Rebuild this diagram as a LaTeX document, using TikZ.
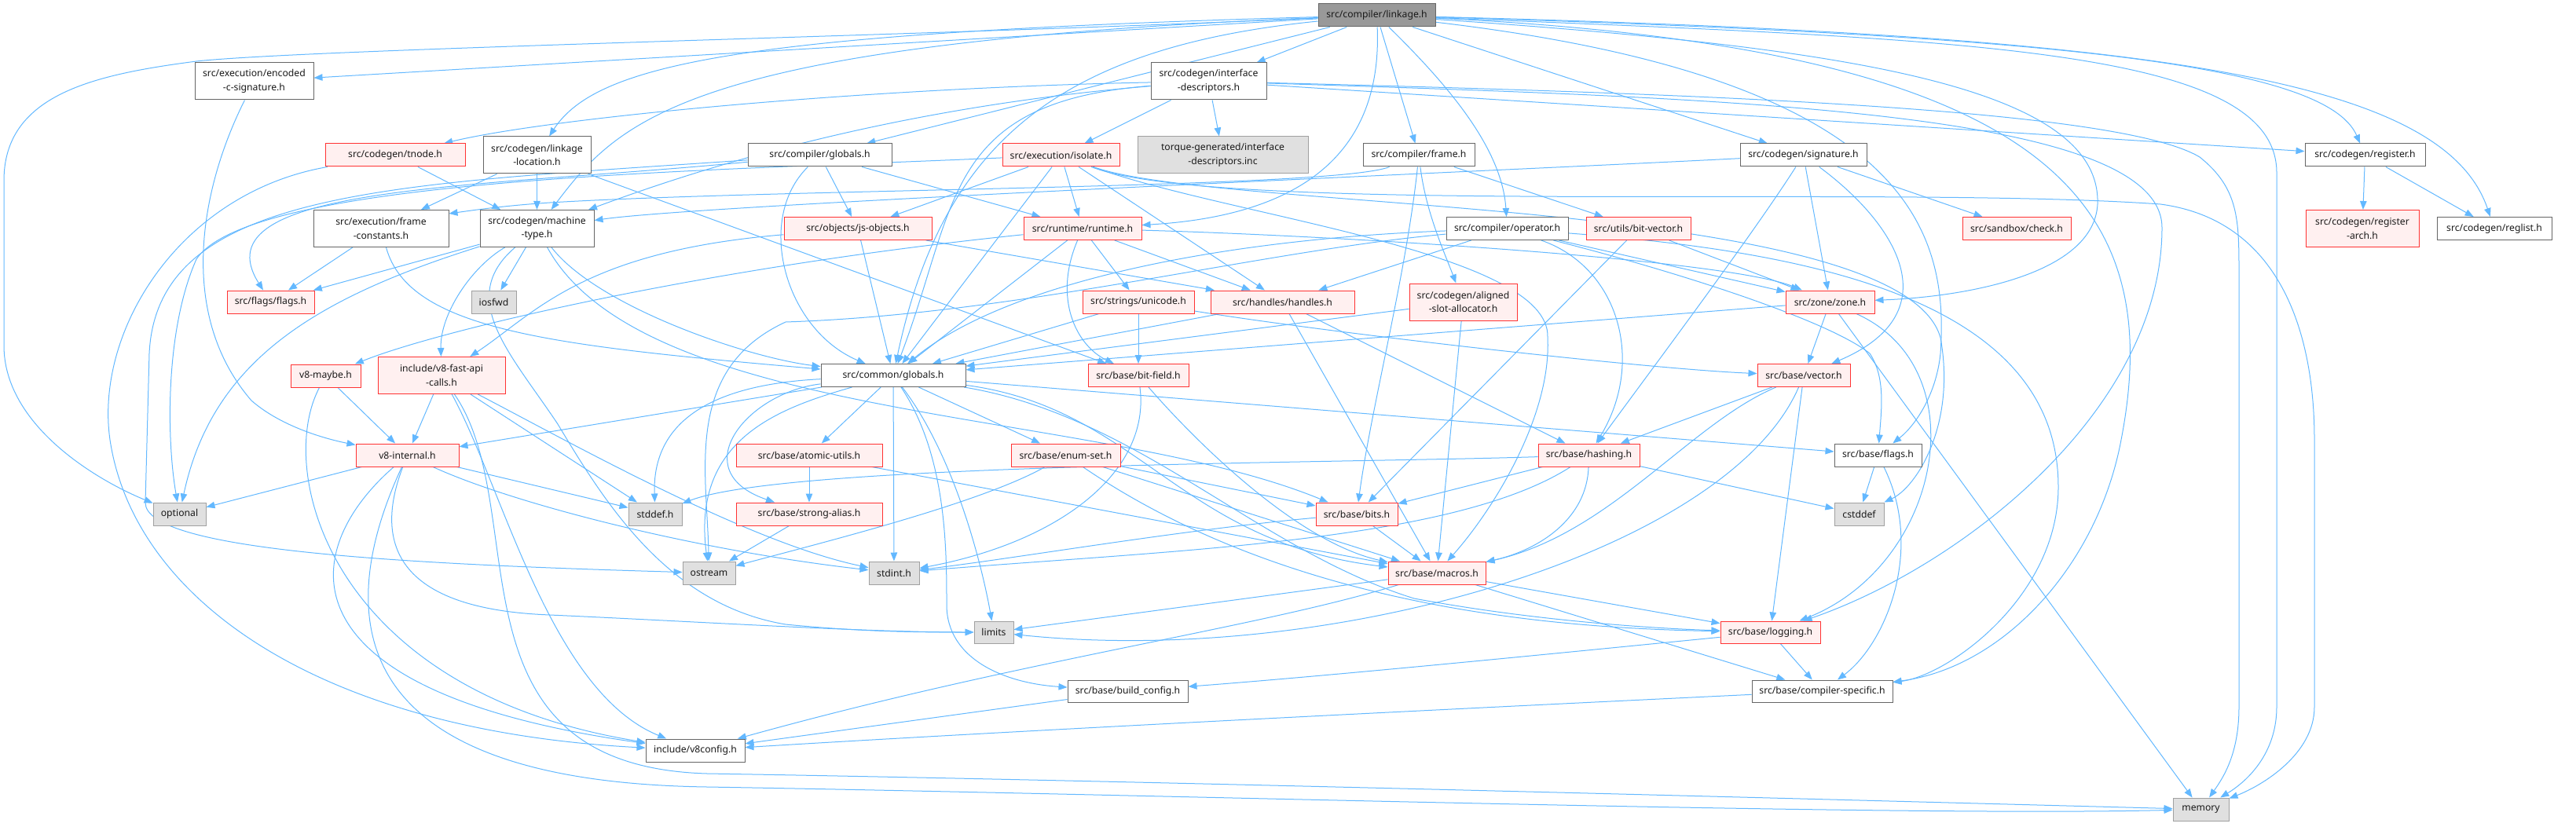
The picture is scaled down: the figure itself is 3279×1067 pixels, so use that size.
\documentclass[tikz,border=0pt]{standalone}
\usepackage{fontspec}
\setmainfont{Noto Sans}
\usetikzlibrary{arrows.meta}
\definecolor{edgec}{HTML}{63B8FF}
\definecolor{redb}{HTML}{FF3333}
\definecolor{pinkf}{HTML}{FFF0F0}
\definecolor{grayb}{HTML}{A0A0A0}
\definecolor{grayf}{HTML}{E0E0E0}
\definecolor{darkb}{HTML}{666666}
\definecolor{rootf}{HTML}{999999}
\definecolor{txt}{HTML}{1A1A1A}
\pgfdeclarelayer{bg}
\pgfsetlayers{bg,main}
\tikzset{
  box/.style={rectangle, inner sep=0pt, line width=1pt, align=center, text=txt, font=\fontsize{12.2}{17.6}\selectfont},
  wbox/.style={box, draw=darkb, fill=white},
  rbox/.style={box, draw=redb, fill=pinkf},
  gbox/.style={box, draw=grayb, fill=grayf},
  rootbox/.style={box, draw=darkb, fill=rootf},
  dep/.style={draw=edgec, line width=1pt, -{Triangle[length=11pt,width=8.5pt]}},
}
\begin{document}
\begin{tikzpicture}[x=1pt,y=-1pt]
\useasboundingbox (0,0) rectangle (3279,1067);
% ---------------- nodes ----------------
\node[rootbox, minimum width=149pt, minimum height=29pt] (L) at (1752.5,19.5) {src/compiler/linkage.h};
\node[wbox, minimum width=151pt, minimum height=47pt] (ECS) at (323.5,103.5) {src/execution/encoded\\-c-signature.h};
\node[wbox, minimum width=147pt, minimum height=47pt] (ID) at (1538.5,103.5) {src/codegen/interface\\-descriptors.h};
\node[rbox, minimum width=178pt, minimum height=29pt] (TN) at (503,197.5) {src/codegen/tnode.h};
\node[wbox, minimum width=137pt, minimum height=47pt] (LL) at (683.5,197.5) {src/codegen/linkage\\-location.h};
\node[wbox, minimum width=183pt, minimum height=29pt] (CG) at (1043.5,197.5) {src/compiler/globals.h};
\node[rbox, minimum width=149pt, minimum height=29pt] (ISO) at (1350.5,197.5) {src/execution/isolate.h};
\node[gbox, minimum width=217pt, minimum height=47pt] (TQ) at (1556.5,197.5) {torque-generated/interface\\-descriptors.inc};
\node[wbox, minimum width=142pt, minimum height=29pt] (FR) at (1806,197.5) {src/compiler/frame.h};
\node[wbox, minimum width=161pt, minimum height=29pt] (SIG) at (2295.5,197.5) {src/codegen/signature.h};
\node[wbox, minimum width=153pt, minimum height=29pt] (REG) at (3010.5,197.5) {src/codegen/register.h};
\node[wbox, minimum width=172pt, minimum height=47pt] (FC) at (485,291) {src/execution/frame\\-constants.h};
\node[wbox, minimum width=145pt, minimum height=47pt] (MT) at (683.5,291) {src/codegen/machine\\-type.h};
\node[rbox, minimum width=188pt, minimum height=29pt] (JSO) at (1092,291) {src/objects/js-objects.h};
\node[rbox, minimum width=150pt, minimum height=29pt] (RT) at (1378,291) {src/runtime/runtime.h};
\node[wbox, minimum width=155pt, minimum height=29pt] (OP) at (1918.5,291) {src/compiler/operator.h};
\node[rbox, minimum width=133pt, minimum height=29pt] (BV) at (2085.5,291) {src/utils/bit-vector.h};
\node[rbox, minimum width=138pt, minimum height=29pt] (SBX) at (2567,291) {src/sandbox/check.h};
\node[rbox, minimum width=144pt, minimum height=47pt] (RA) at (3007,291) {src/codegen/register\\-arch.h};
\node[wbox, minimum width=146pt, minimum height=29pt] (RL) at (3175,291) {src/codegen/reglist.h};
\node[rbox, minimum width=111pt, minimum height=29pt] (FF) at (344.5,384.5) {src/flags/flags.h};
\node[gbox, minimum width=57pt, minimum height=29pt] (IOS) at (628.5,384.5) {iosfwd};
\node[rbox, minimum width=142pt, minimum height=29pt] (SU) at (1449,384.5) {src/strings/unicode.h};
\node[rbox, minimum width=183pt, minimum height=29pt] (HH) at (1632.5,384.5) {src/handles/handles.h};
\node[rbox, minimum width=137pt, minimum height=47pt] (ASA) at (1862.5,384.5) {src/codegen/aligned\\-slot-allocator.h};
\node[rbox, minimum width=113pt, minimum height=29pt] (ZN) at (2329.5,384.5) {src/zone/zone.h};
\node[rbox, minimum width=89pt, minimum height=29pt] (MB) at (414.5,478.5) {v8-maybe.h};
\node[rbox, minimum width=162pt, minimum height=47pt] (FAC) at (562,478) {include/v8-fast-api\\-calls.h};
\node[wbox, minimum width=184pt, minimum height=29pt] (GL) at (1137,478) {src/common/globals.h};
\node[rbox, minimum width=128pt, minimum height=29pt] (BF) at (1449,478) {src/base/bit-field.h};
\node[rbox, minimum width=118pt, minimum height=29pt] (VEC) at (2296,478) {src/base/vector.h};
\node[rbox, minimum width=131pt, minimum height=29pt] (VI) at (518.5,579.5) {v8-internal.h};
\node[rbox, minimum width=186pt, minimum height=29pt] (AU) at (1030,579.5) {src/base/atomic-utils.h};
\node[rbox, minimum width=139pt, minimum height=29pt] (ES) at (1356.5,579.5) {src/base/enum-set.h};
\node[rbox, minimum width=129pt, minimum height=29pt] (HS) at (2022.5,579.5) {src/base/hashing.h};
\node[wbox, minimum width=111pt, minimum height=29pt] (BFL) at (2390.5,579.5) {src/base/flags.h};
\node[gbox, minimum width=67pt, minimum height=29pt] (OPT) at (228.5,654.5) {optional};
\node[gbox, minimum width=68pt, minimum height=29pt] (SDH) at (834,654.5) {stddef.h};
\node[rbox, minimum width=186pt, minimum height=29pt] (SA) at (1030,654.5) {src/base/strong-alias.h};
\node[rbox, minimum width=104pt, minimum height=29pt] (BITS) at (1727,654.5) {src/base/bits.h};
\node[gbox, minimum width=63pt, minimum height=29pt] (CSD) at (2366.5,654.5) {cstddef};
\node[gbox, minimum width=67pt, minimum height=29pt] (OST) at (902.5,729.5) {ostream};
\node[gbox, minimum width=64pt, minimum height=29pt] (SI) at (1138,729.5) {stdint.h};
\node[rbox, minimum width=124pt, minimum height=29pt] (MAC) at (1829,729.5) {src/base/macros.h};
\node[gbox, minimum width=50pt, minimum height=28pt] (LIM) at (1265,805) {limits};
\node[rbox, minimum width=127pt, minimum height=28pt] (LOG) at (2253.5,805) {src/base/logging.h};
\node[wbox, minimum width=153pt, minimum height=28pt] (BC) at (1435.5,880) {src/base/build\_config.h};
\node[wbox, minimum width=179pt, minimum height=28pt] (CS) at (2319.5,880) {src/base/compiler-specific.h};
\node[wbox, minimum width=126pt, minimum height=29pt] (V8C) at (885,955.5) {include/v8config.h};
\node[gbox, minimum width=71pt, minimum height=29pt] (MEM) at (2801.5,1030.5) {memory};
% ---------------- edges ----------------
\begin{pgfonlayer}{bg}
% linkage.h
\draw[dep] (L) -- (ECS);
\draw[dep] (L) .. controls (1200,45) and (400,62) .. (250,78) .. controls (120,95) and (5,120) .. (5,230) -- (5,440) .. controls (5,540) and (120,610) .. (OPT);
\draw[dep] (L) .. controls (950,42) and (760,80) .. (LL);
\draw[dep] (L) .. controls (880,55) and (790,150) .. (MT);
\draw[dep] (L) -- (ID);
\draw[dep] (L) -- (CG);
\draw[dep] (L) .. controls (1350,60) and (1200,180) .. (GL);
\draw[dep] (L) .. controls (1760,200) and (1650,275) .. (RT);
\draw[dep] (L) -- (FR);
\draw[dep] (L) .. controls (1845,110) and (1912,190) .. (OP);
\draw[dep] (L) -- (SIG);
\draw[dep] (L) .. controls (2600,45) and (2960,80) .. (REG);
\draw[dep] (L) .. controls (2750,45) and (3110,100) .. (RL);
\draw[dep] (L) .. controls (2350,60) and (2675,110) .. (2670,260) .. controls (2665,350) and (2500,378) .. (ZN);
\draw[dep] (L) .. controls (2440,100) and (2480,300) .. (2470,450) .. controls (2465,500) and (2440,540) .. (BFL);
\draw[dep] (L) .. controls (2600,60) and (2760,250) .. (2700,560) .. controls (2670,720) and (2550,850) .. (CS);
\draw[dep] (L) .. controls (2500,50) and (2898,60) .. (2898,220) -- (2898,900) .. controls (2898,960) and (2860,995) .. (MEM);
% encoded-c-signature
\draw[dep] (ECS) .. controls (255,240) and (225,400) .. (320,510) .. controls (360,545) and (420,560) .. (VI);
% interface-descriptors
\draw[dep] (ID) .. controls (1100,112) and (700,150) .. (TN);
\draw[dep] (ID) .. controls (1100,140) and (850,230) .. (MT);
\draw[dep] (ID) -- (ISO);
\draw[dep] (ID) -- (TQ);
\draw[dep] (ID) .. controls (1200,130) and (1220,260) .. (GL);
\draw[dep] (ID) -- (REG);
\draw[dep] (ID) .. controls (2200,125) and (2752,140) .. (2752,290) .. controls (2752,520) and (2500,720) .. (LOG);
\draw[dep] (ID) .. controls (2200,120) and (2700,140) .. (2800,200) .. controls (2850,240) and (2850,280) .. (2850,350) -- (2850,900) .. controls (2850,960) and (2830,990) .. (MEM);
% tnode
\draw[dep] (TN) -- (MT);
\draw[dep] (TN) .. controls (230,245) and (120,420) .. (140,560) .. controls (170,760) and (400,930) .. (V8C);
% linkage-location
\draw[dep] (LL) -- (MT);
\draw[dep] (LL) -- (FC);
\draw[dep] (LL) -- (BF);
% compiler/globals
\draw[dep] (CG) .. controls (600,240) and (250,235) .. (FF);
\draw[dep] (CG) -- (JSO);
\draw[dep] (CG) -- (RT);
\draw[dep] (CG) .. controls (960,280) and (1000,420) .. (GL);
\draw[dep] (CG) .. controls (500,235) and (200,240) .. (190,450) -- (185,640) .. controls (185,700) and (500,718) .. (OST);
% isolate
\draw[dep] (ISO) -- (JSO);
\draw[dep] (ISO) -- (RT);
\draw[dep] (ISO) -- (GL);
\draw[dep] (ISO) -- (HH);
\draw[dep] (ISO) .. controls (1560,275) and (1975,320) .. (1970,430) .. controls (1975,530) and (1900,650) .. (MAC);
\draw[dep] (ISO) .. controls (1550,270) and (2420,250) .. (2470,430) .. controls (2490,540) and (2440,620) .. (CSD);
\draw[dep] (ISO) .. controls (1550,275) and (2400,235) .. (2750,260) .. controls (2900,280) and (2946,420) .. (2946,560) -- (2946,900) .. controls (2946,960) and (2880,1000) .. (MEM);
\draw[dep] (ISO) .. controls (900,218) and (320,225) .. (250,330) .. controls (210,420) and (212,560) .. (OPT);
% compiler/frame
\draw[dep] (FR) .. controls (1700,240) and (1000,240) .. (700,258) .. controls (640,262) and (600,268) .. ([yshift=-5pt]FC.north east);
\draw[dep] (FR) .. controls (1790,350) and (1745,520) .. (BITS);
\draw[dep] (FR) .. controls (1815,270) and (1838,320) .. (ASA);
\draw[dep] (FR) -- (BV);
% signature
\draw[dep] (SIG) .. controls (1900,218) and (900,260) .. (MT);
\draw[dep] (SIG) -- (ZN);
\draw[dep] (SIG) .. controls (2230,300) and (2110,460) .. (HS);
\draw[dep] (SIG) .. controls (2420,290) and (2480,400) .. (VEC);
\draw[dep] (SIG) -- (SBX);
% register
\draw[dep] (REG) -- (RA);
\draw[dep] (REG) -- (RL);
% frame-constants
\draw[dep] (FC) -- (FF);
\draw[dep] (FC) .. controls (520,420) and (700,440) .. (GL);
% machine-type
\draw[dep] (MT) -- (IOS);
\draw[dep] (MT) .. controls (760,390) and (950,455) .. (GL);
\draw[dep] (MT) -- (FF);
\draw[dep] (MT) .. controls (600,340) and (560,400) .. (FAC);
\draw[dep] (MT) .. controls (580,380) and (650,450) .. (710,540) .. controls (770,640) and (850,770) .. (1000,795) .. controls (1100,805) and (1180,805) .. (LIM);
\draw[dep] (MT) .. controls (820,540) and (1400,520) .. (BITS);
\draw[dep] (MT) .. controls (400,380) and (270,460) .. (OPT);
% js-objects
\draw[dep] (JSO) -- (GL);
\draw[dep] (JSO) -- (HH);
\draw[dep] (JSO) .. controls (740,320) and (680,400) .. (FAC);
% runtime
\draw[dep] (RT) -- (GL);
\draw[dep] (RT) -- (SU);
\draw[dep] (RT) -- (HH);
\draw[dep] (RT) .. controls (1340,380) and (1370,440) .. (BF);
\draw[dep] (RT) .. controls (1700,300) and (2200,330) .. (ZN);
\draw[dep] (RT) .. controls (900,340) and (560,420) .. (MB);
% unicode
\draw[dep] (SU) -- (GL);
\draw[dep] (SU) -- (BF);
\draw[dep] (SU) .. controls (1700,425) and (2100,470) .. (VEC);
% handles
\draw[dep] (HH) -- (GL);
\draw[dep] (HH) -- (HS);
\draw[dep] (HH) -- (MAC);
% aligned-slot-allocator
\draw[dep] (ASA) -- (GL);
\draw[dep] (ASA) -- (MAC);
% operator
\draw[dep] (OP) .. controls (1550,305) and (1280,360) .. (GL);
\draw[dep] (OP) -- (HH);
\draw[dep] (OP) -- (ZN);
\draw[dep] (OP) .. controls (2060,340) and (2095,460) .. (HS);
\draw[dep] (OP) .. controls (2150,350) and (2330,410) .. (2380,450) .. controls (2400,480) and (2395,520) .. (BFL);
\draw[dep] (OP) .. controls (2300,320) and (2620,380) .. (2620,620) .. controls (2620,760) and (2480,860) .. (CS);
\draw[dep] (OP) .. controls (1600,320) and (1300,400) .. (1000,410) .. controls (870,470) and (900,600) .. (OST);
% bit-vector
\draw[dep] (BV) -- (BITS);
\draw[dep] (BV) -- (ZN);
% zone
\draw[dep] (ZN) -- (GL);
\draw[dep] (ZN) -- (VEC);
\draw[dep] (ZN) .. controls (2520,470) and (2470,720) .. (LOG);
\draw[dep] (ZN) -- (MEM);
% v8-maybe
\draw[dep] (MB) -- (VI);
\draw[dep] (MB) .. controls (350,600) and (420,880) .. (V8C);
% fast-api-calls
\draw[dep] (FAC) -- (VI);
\draw[dep] (FAC) -- (SDH);
\draw[dep] (FAC) .. controls (720,560) and (950,690) .. (SI);
\draw[dep] (FAC) .. controls (640,620) and (700,880) .. (V8C);
\draw[dep] (FAC) .. controls (680,650) and (560,975) .. (900,985) .. controls (1500,995) and (2400,1020) .. (MEM);
% common/globals
\draw[dep] (GL) -- (VI);
\draw[dep] (GL) .. controls (900,490) and (830,540) .. (SDH);
\draw[dep] (GL) .. controls (990,520) and (880,560) .. (OST);
\draw[dep] (GL) -- (SI);
\draw[dep] (GL) .. controls (1215,580) and (1250,720) .. (LIM);
\draw[dep] (GL) .. controls (1205,580) and (1205,700) .. (1205,770) .. controls (1205,840) and (1280,870) .. (BC);
\draw[dep] (GL) -- (AU);
\draw[dep] (GL) -- (ES);
\draw[dep] (GL) .. controls (950,500) and (870,600) .. (SA);
\draw[dep] (GL) -- (BFL);
\draw[dep] (GL) .. controls (1450,520) and (1500,690) .. (MAC);
\draw[dep] (GL) .. controls (1450,530) and (1600,700) .. (1800,762) .. controls (1950,790) and (2100,800) .. (LOG);
% v8-internal
\draw[dep] (VI) -- (OPT);
\draw[dep] (VI) -- (SDH);
\draw[dep] (VI) .. controls (650,640) and (880,700) .. (SI);
\draw[dep] (VI) .. controls (380,700) and (350,880) .. (V8C);
\draw[dep] (VI) .. controls (480,680) and (490,775) .. (700,783) .. controls (900,792) and (1100,805) .. (LIM);
\draw[dep] (VI) .. controls (430,770) and (420,995) .. (900,1002) .. controls (1500,1012) and (2400,1040) .. (MEM);
% atomic-utils
\draw[dep] (AU) -- (SA);
\draw[dep] (AU) -- (MAC);
% enum-set
\draw[dep] (ES) .. controls (1250,640) and (1050,690) .. (OST);
\draw[dep] (ES) -- (BITS);
\draw[dep] (ES) -- (MAC);
\draw[dep] (ES) .. controls (1650,780) and (2000,800) .. (LOG);
% strong-alias
\draw[dep] (SA) -- (OST);
% bit-field
\draw[dep] (BF) .. controls (1465,600) and (1350,690) .. (SI);
\draw[dep] (BF) .. controls (1520,560) and (1650,690) .. (MAC);
% hashing
\draw[dep] (HS) -- (BITS);
\draw[dep] (HS) .. controls (2020,660) and (1960,700) .. (MAC);
\draw[dep] (HS) .. controls (1700,590) and (1000,590) .. (SDH);
\draw[dep] (HS) -- (CSD);
\draw[dep] (HS) .. controls (1850,690) and (1500,700) .. (SI);
% vector
\draw[dep] (VEC) -- (HS);
\draw[dep] (VEC) .. controls (2150,540) and (2050,680) .. (MAC);
\draw[dep] (VEC) -- (LOG);
\draw[dep] (VEC) .. controls (2200,700) and (1700,850) .. (LIM);
% base/flags
\draw[dep] (BFL) -- (CSD);
\draw[dep] (BFL) .. controls (2450,700) and (2400,820) .. (CS);
% bits
\draw[dep] (BITS) -- (MAC);
\draw[dep] (BITS) .. controls (1500,675) and (1300,710) .. (SI);
% macros
\draw[dep] (MAC) -- (LIM);
\draw[dep] (MAC) -- (LOG);
\draw[dep] (MAC) -- (CS);
\draw[dep] (MAC) .. controls (1600,800) and (1300,840) .. (V8C);
% logging
\draw[dep] (LOG) .. controls (2000,830) and (1700,860) .. (BC);
\draw[dep] (LOG) -- (CS);
% build_config, compiler-specific
\draw[dep] (BC) -- (V8C);
\draw[dep] (CS) .. controls (1800,905) and (1300,930) .. (V8C);
\end{pgfonlayer}
\end{tikzpicture}
\end{document}
